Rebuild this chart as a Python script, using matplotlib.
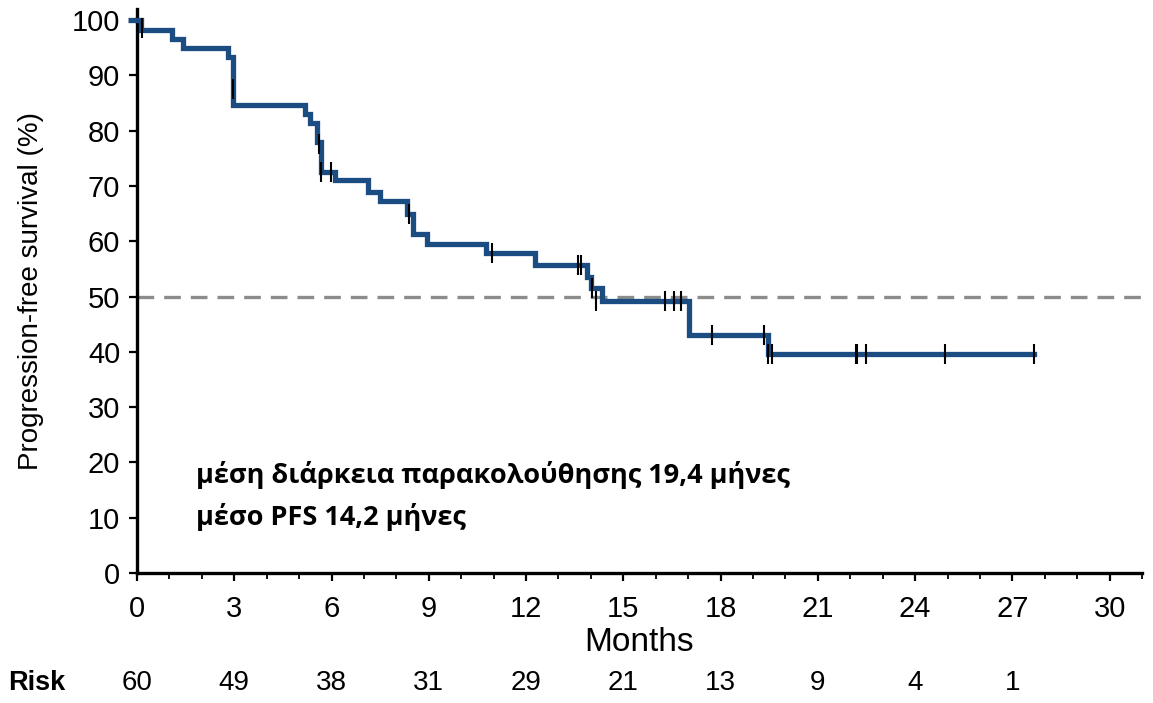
import numpy as np
import matplotlib
matplotlib.use('Agg')
import matplotlib.pyplot as plt
from matplotlib.ticker import MultipleLocator
import matplotlib.transforms as mtransforms

# Kaplan-Meier steps (months, % progression-free)
step_months = [0, 0.11, 1.07, 1.43, 2.82, 2.97, 5.18, 5.33, 5.54, 5.69, 6.1,
               7.13, 7.49, 8.32, 8.52, 8.93, 10.78, 12.29, 13.89, 14.0,
               14.33, 17.03, 19.45, 27.68]
step_surv = [100, 98.3, 96.6, 95.0, 93.3, 84.7, 83.1, 81.4, 77.9, 72.6, 71.0,
             69.0, 67.3, 65.0, 61.3, 59.6, 57.8, 55.8, 53.5, 51.6,
             49.2, 43.1, 39.7, 39.7]

# censored observations
cens_months = [0.17, 2.95, 5.62, 5.69, 5.97, 8.4, 10.96, 13.6, 13.71, 14.02,
               14.15, 16.28, 16.56, 16.77, 17.75, 19.35, 19.45, 19.6, 22.17,
               22.22, 22.5, 24.93, 27.68]
cens_surv = [98.6, 87.5, 77.6, 72.5, 72.6, 65.0, 57.8, 55.8, 55.8, 51.6,
             49.2, 49.2, 49.2, 49.2, 43.1, 43.1, 39.7, 39.7, 39.7,
             39.7, 39.7, 39.7, 39.7]

risk_months = [0, 3, 6, 9, 12, 15, 18, 21, 24, 27]
risk_counts = [60, 49, 38, 31, 29, 21, 13, 9, 4, 1]

notes = ['μέση διάρκεια παρακολούθησης 19,4 μήνες', 'μέσο PFS 14,2 μήνες']

plt.rcParams['font.family'] = ['Liberation Sans', 'DejaVu Sans']

fig = plt.figure(figsize=(11.53, 7.03), dpi=100)
ax = fig.add_axes([0.1188, 0.185, 0.8717, 0.802])

ax.step(step_months, step_surv, where='post', color='#1b4c82', lw=3.8,
        clip_on=False, solid_joinstyle='miter', zorder=3)
ax.plot([-0.28, 0], [100, 100], color='#1b4c82', lw=3.8, clip_on=False,
        solid_capstyle='butt')
ax.plot(cens_months, cens_surv, ls='none', marker='|', ms=15, mew=1.5,
        color='black', zorder=4, clip_on=False)

ax.axhline(50, color='#8c8c8c', lw=2.4, ls=(0, (5, 3)), zorder=2)

ax.set_xlim(0, 31)
ax.set_ylim(0, 102)
ax.xaxis.set_major_locator(MultipleLocator(3))
ax.xaxis.set_minor_locator(MultipleLocator(1))
ax.yaxis.set_major_locator(MultipleLocator(10))
ax.set_xticks(np.arange(0, 31, 3))

for s in ['top', 'right']:
    ax.spines[s].set_visible(False)
for s in ['left', 'bottom']:
    ax.spines[s].set_linewidth(2.4)
ax.spines['left'].set_bounds(0, 102)

ax.tick_params(axis='both', which='major', direction='out', length=6, width=1.6,
               labelsize=21)
ax.tick_params(axis='x', which='major', pad=10)
ax.tick_params(axis='y', which='major', pad=6)
ax.tick_params(axis='x', which='minor', direction='out', length=4, width=1.3)
ax.set_xlabel('Months', fontsize=24, labelpad=3)
ax.set_ylabel('Progression-free survival (%)', fontsize=20, labelpad=20)

for i, line in enumerate(notes):
    ax.text(1.82, 17.7 - i * 7.6, line, fontsize=19.5, fontweight='bold',
            family=['Open Sans', 'Noto Sans', 'DejaVu Sans'], ha='left', va='center')

trans = mtransforms.blended_transform_factory(ax.transData, fig.transFigure)
fig.text(0.007, 0.028, 'Risk', fontsize=19.5, fontweight='bold', ha='left', va='center')
for m, n in zip(risk_months, risk_counts):
    ax.text(m, 0.028, str(n), transform=trans, fontsize=20, ha='center', va='center')

fig.savefig('out.png', dpi=100)
